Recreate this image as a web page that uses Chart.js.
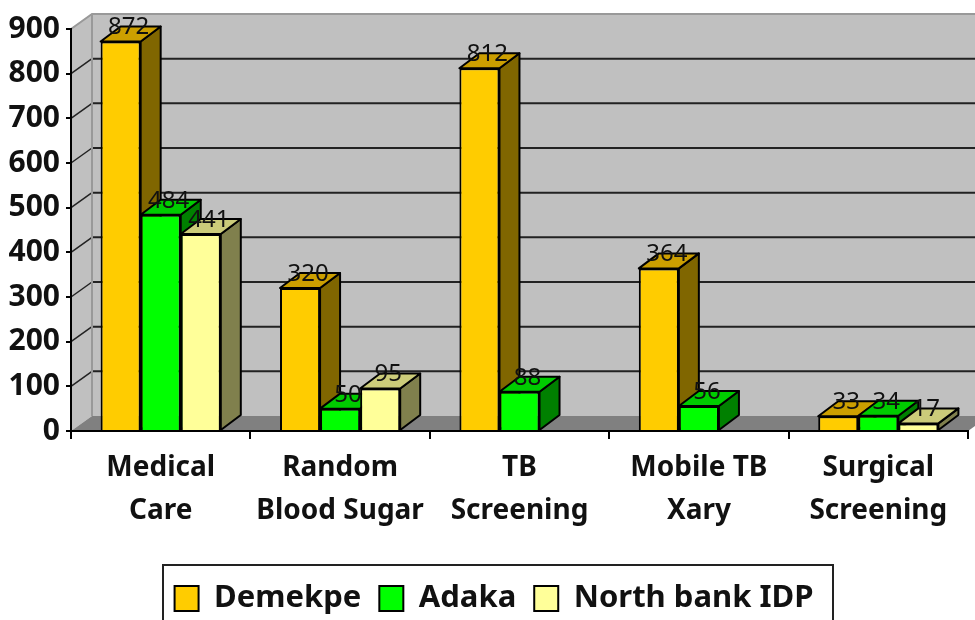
<!DOCTYPE html>
<html lang="en">
<head>
    <meta charset="UTF-8">
    <title>Screening by site</title>
    <script src="https://cdn.jsdelivr.net/npm/chart.js"></script>
    <style>
        body { margin: 0; background: #fff; }
        canvas { display: block; filter: blur(0.5px); }
    </style>
</head>
<body>
    <canvas id="chart" width="975" height="620"></canvas>

    <script>
        const categories = [["Medical", "Care"], ["Random", "Blood Sugar"], ["TB", "Screening"], ["Mobile TB", "Xary"], ["Surgical", "Screening"]];
        const demekpe = [872, 320, 812, 364, 33];
        const adaka = [484, 50, 88, 56, 34];
        const northBank = [441, 95, null, null, 17];

        const FONT = "'Noto Sans', sans-serif";
        const DX = 20, DY = -15;   // fake 3D depth

        function poly(ctx, pts, fill, stroke, lw) {
            ctx.beginPath();
            pts.forEach((p, i) => i ? ctx.lineTo(p[0], p[1]) : ctx.moveTo(p[0], p[1]));
            ctx.closePath();
            if (fill) { ctx.fillStyle = fill; ctx.fill(); }
            if (stroke) { ctx.strokeStyle = stroke; ctx.lineWidth = lw; ctx.stroke(); }
        }

        // gray walls and floor behind the bars
        const walls = {
            id: "walls",
            // the left padding is only there to centre the legend, don't clip the y labels with it
            afterLayout(chart) {
                chart.scales.y.left = 0;
            },
            beforeDraw(chart) {
                const { ctx, chartArea: a, scales: { y } } = chart;
                const w = 975, dx = DX + 1;
                const top = a.top + DY, floor = a.bottom + DY;
                ctx.save();
                poly(ctx, [[a.left, a.top], [a.left + dx, top], [a.left + dx, floor], [a.left, a.bottom]], "#c0c0c0");
                poly(ctx, [[a.left + dx, top], [w, top], [w, floor], [a.left + dx, floor]], "#c0c0c0");
                poly(ctx, [[a.left, a.bottom], [a.left + dx, floor], [w, floor], [w, a.bottom - 5], [a.right, a.bottom]], "#808080");

                y.ticks.forEach(t => {
                    if (t.value === 0 || t.value === 900) return;
                    const py = y.getPixelForValue(t.value);
                    ctx.strokeStyle = "#222";
                    ctx.lineWidth = 2;
                    ctx.beginPath();
                    ctx.moveTo(a.left + dx, py + DY);
                    ctx.lineTo(w, py + DY);
                    ctx.stroke();
                    ctx.lineWidth = 1.5;
                    ctx.beginPath();
                    ctx.moveTo(a.left, py);
                    ctx.lineTo(a.left + dx, py + DY);
                    ctx.stroke();
                });

                ctx.strokeStyle = "#999";
                ctx.lineWidth = 2;
                ctx.beginPath();
                ctx.moveTo(a.left, a.top);
                ctx.lineTo(a.left + dx, top);
                ctx.lineTo(w, top);
                ctx.moveTo(a.left + dx, top);
                ctx.lineTo(a.left + dx, floor);
                ctx.stroke();
                ctx.restore();
            },
            // top and side faces, left to right so nearer bars cover the older ones
            beforeDatasetsDraw(chart) {
                const { ctx } = chart;
                const count = categories.length;
                ctx.save();
                ctx.lineJoin = "round";
                for (let i = 0; i < count; i++) {
                    chart.data.datasets.forEach((ds, d) => {
                        if (ds.data[i] == null) return;
                        const bar = chart.getDatasetMeta(d).data[i];
                        const l = bar.x - bar.width / 2, r = bar.x + bar.width / 2;
                        poly(ctx, [[r, bar.y], [r + DX, bar.y + DY], [r + DX, bar.base + DY], [r, bar.base]], ds.sideColor, "#000", 2);
                        poly(ctx, [[l, bar.y], [l + DX, bar.y + DY], [r + DX, bar.y + DY], [r, bar.y]], ds.topColor, "#000", 2);
                    });
                }
                ctx.restore();
            },
            afterDatasetsDraw(chart) {
                const { ctx } = chart;
                ctx.save();
                ctx.font = "24px " + FONT;
                ctx.fillStyle = "#111";
                ctx.textAlign = "center";
                ctx.textBaseline = "middle";
                chart.data.datasets.forEach((ds, d) => {
                    chart.getDatasetMeta(d).data.forEach((bar, i) => {
                        if (ds.data[i] == null) return;
                        ctx.fillText(ds.data[i], bar.x + 8, bar.y - 14);
                    });
                });
                ctx.restore();
            },
            afterDraw(chart) {
                const { ctx } = chart;
                ctx.save();
                ctx.strokeStyle = "#222";
                ctx.lineWidth = 2;
                ctx.strokeRect(163, 565, 670, 70);
                ctx.restore();
            }
        };

        new Chart(document.getElementById("chart"), {
            type: "bar",
            data: {
                labels: categories,
                datasets: [
                    { label: "Demekpe", data: demekpe, backgroundColor: "#ffcc00", sideColor: "#806600", topColor: "#cc9f00" },
                    { label: "Adaka", data: adaka, backgroundColor: "#00ff00", sideColor: "#008000", topColor: "#00cc00" },
                    { label: "North bank IDP", data: northBank, backgroundColor: "#ffff99", sideColor: "#80804d", topColor: "#cccc7a" }
                ]
            },
            plugins: [walls],
            options: {
                responsive: false,
                animation: false,
                datasets: {
                    bar: { barPercentage: 1, categoryPercentage: 0.67, borderColor: "#000", borderWidth: 2 }
                },
                layout: { autoPadding: false, padding: { left: 20, right: 7, top: 29, bottom: -4 } },
                plugins: {
                    tooltip: { enabled: false },
                    legend: {
                        position: "bottom",
                        labels: {
                            boxWidth: 24,
                            boxHeight: 25,
                            padding: 18,
                            color: "#111",
                            font: { family: FONT, size: 31, weight: "bold" }
                        }
                    }
                },
                scales: {
                    x: {
                        afterFit(scale) { scale.height = 134; },
                        border: { color: "#000", width: 2 },
                        grid: { drawOnChartArea: false, tickLength: 8, color: "#000", lineWidth: 2 },
                        ticks: {
                            color: "#111",
                            padding: 7,
                            maxRotation: 0,
                            font: { family: FONT, size: 28, weight: "bold", lineHeight: 1.54 }
                        }
                    },
                    y: {
                        min: 0,
                        max: 900,
                        afterFit(scale) { scale.width = 51; },
                        border: { color: "#000", width: 2 },
                        grid: { drawOnChartArea: false, tickLength: 5, color: "#000", lineWidth: 2 },
                        ticks: {
                            stepSize: 100,
                            color: "#111",
                            padding: 6,
                            font: { family: FONT, size: 30, weight: "bold" }
                        }
                    }
                }
            }
        });
    </script>
</body>
</html>
